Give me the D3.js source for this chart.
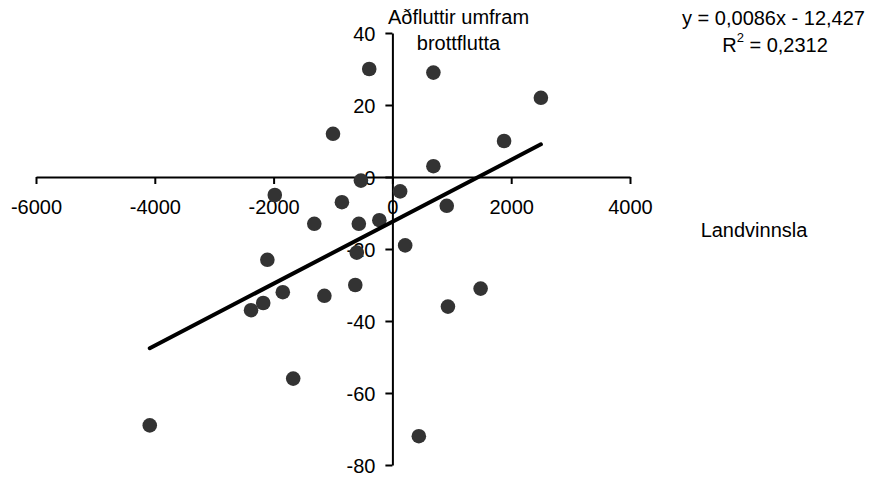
<!DOCTYPE html>
<html>
<head>
<meta charset="utf-8">
<script src="https://cdn.jsdelivr.net/npm/d3@7"></script>
<style>
  html, body { margin: 0; padding: 0; background: #fff; }
  svg { display: block; font-family: "Liberation Sans", Arial, sans-serif; }
</style>
</head>
<body>
<svg id="chart" width="869" height="478"></svg>
<script>
// ---- data ----
const landvinnsla = [-390, 690, 2500, -1000, 1880, 690, -530, -1980, 130, -850, 915, -1315, -565, -220, 215, -600, -2105, -625, -1145, -1845, -2175, -2380, -1670, -4085, 445, 935, 1485];
const adfluttir   = [30, 29, 22, 12, 10, 3, -1, -5, -4, -7, -8, -13, -13, -12, -19, -21, -23, -30, -33, -32, -35, -37, -56, -69, -72, -36, -31];
const xTicks = [-6000, -4000, -2000, 0, 2000, 4000];
const yTicks = [-80, -60, -40, -20, 0, 20, 40];
const slope = 0.0086;
const intercept = -12.427;
const rSquared = "0,2312";
const eqText = "y = 0,0086x - 12,427";
const yTitle = ["Aðfluttir umfram", "brottflutta"];
const xTitle = "Landvinnsla";

// ---- drawing ----
const svg = d3.select("#chart");
const x = d3.scaleLinear().domain([-6000, 4000]).range([36, 630]);
const y = d3.scaleLinear().domain([-80, 40]).range([465, 33]);

const fmt = d => String(d);

// x axis through y=0
const xAxisG = svg.append("g")
  .attr("transform", `translate(0,${y(0)})`)
  .call(d3.axisBottom(x).tickValues(xTicks).tickFormat(fmt).tickSize(7).tickSizeOuter(0));
xAxisG.select(".domain").attr("stroke", "#000").attr("stroke-width", 2);
xAxisG.selectAll(".tick line").attr("stroke", "#000").attr("stroke-width", 2);
xAxisG.selectAll(".tick text")
  .attr("font-size", 20).attr("fill", "#000")
  .attr("y", 37).attr("dy", 0);

// y axis through x=0
const yAxisG = svg.append("g")
  .attr("transform", `translate(${x(0)},0)`)
  .call(d3.axisLeft(y).tickValues(yTicks).tickFormat(fmt).tickSize(7).tickSizeOuter(0));
yAxisG.select(".domain").attr("stroke", "#000").attr("stroke-width", 2);
yAxisG.selectAll(".tick line").attr("stroke", "#000").attr("stroke-width", 2);
yAxisG.selectAll(".tick text")
  .attr("font-size", 20).attr("fill", "#000")
  .attr("x", -17).attr("dy", 7);

// points
const pts = landvinnsla.map((v, i) => ({ x: v, y: adfluttir[i] }));
svg.append("g").selectAll("circle")
  .data(pts).join("circle")
  .attr("cx", d => x(d.x))
  .attr("cy", d => y(d.y))
  .attr("r", 7.3)
  .attr("fill", "#333333");

// trend line
const xmin = d3.min(landvinnsla), xmax = d3.max(landvinnsla);
const trend = [xmin, xmax].map(v => ({ x: v, y: slope * v + intercept }));
svg.append("path")
  .datum(trend)
  .attr("d", d3.line().x(d => x(d.x)).y(d => y(d.y)))
  .attr("stroke", "#000")
  .attr("stroke-width", 4)
  .attr("stroke-linecap", "round")
  .attr("fill", "none");

// y title
const yt = svg.append("text")
  .attr("text-anchor", "middle").attr("font-size", 20).attr("fill", "#000");
yTitle.forEach((t, i) => {
  yt.append("tspan").attr("x", 458.5).attr("y", 24 + i * 26).text(t);
});

// x title
svg.append("text")
  .attr("x", 754).attr("y", 237)
  .attr("text-anchor", "middle").attr("font-size", 20).attr("fill", "#000")
  .text(xTitle);

// equation
svg.append("text")
  .attr("x", 773.5).attr("y", 25)
  .attr("text-anchor", "middle").attr("font-size", 20).attr("fill", "#000")
  .text(eqText);
const r2 = svg.append("text")
  .attr("x", 775).attr("y", 52)
  .attr("text-anchor", "middle").attr("font-size", 20).attr("fill", "#000");
r2.append("tspan").text("R");
r2.append("tspan").attr("font-size", 13).attr("dy", -10).text("2");
r2.append("tspan").attr("dy", 10).text(" = " + rSquared);
</script>
</body>
</html>
